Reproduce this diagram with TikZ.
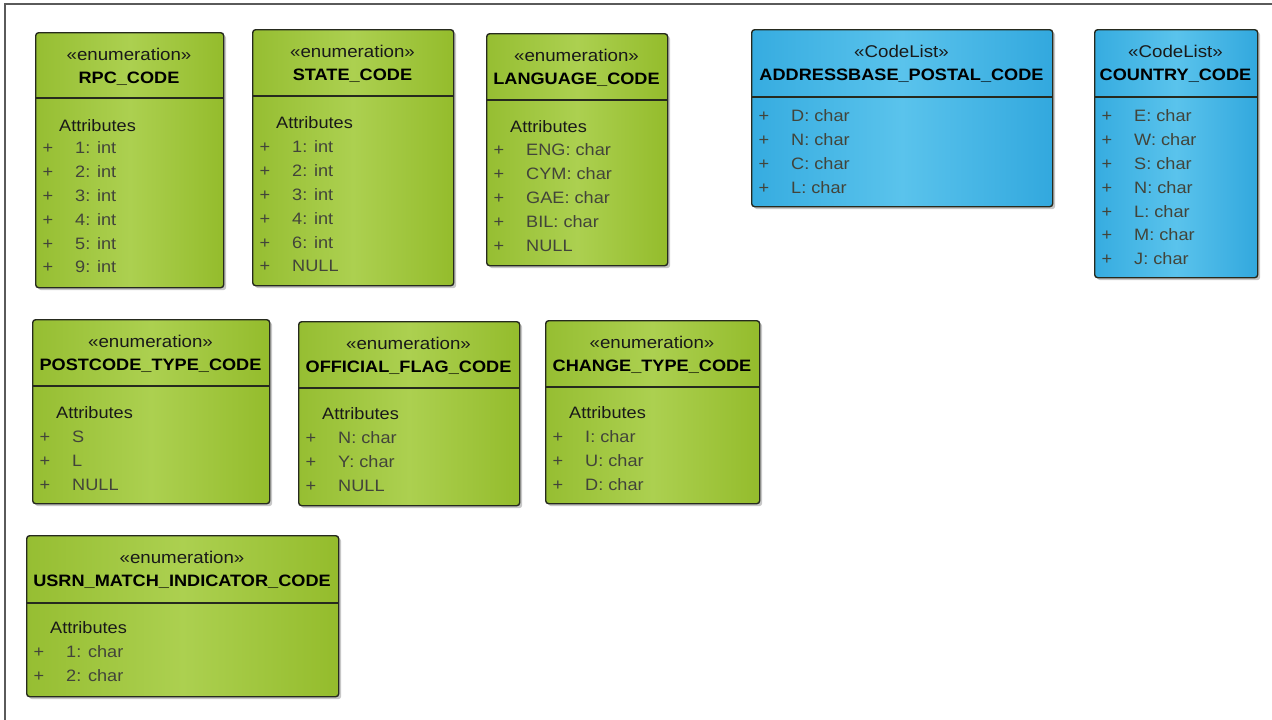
\documentclass[tikz,border=0pt]{standalone}
\usepackage{fontspec}
\setmainfont{Liberation Sans}[FakeStretch=1.1]
\usetikzlibrary{shadows}
\definecolor{gA}{RGB}{150,190,50}
\definecolor{gB}{RGB}{172,208,80}
\definecolor{gC}{RGB}{148,188,44}
\definecolor{bA}{RGB}{54,172,224}
\definecolor{bB}{RGB}{90,195,236}
\definecolor{bC}{RGB}{50,168,222}
\definecolor{edgec}{RGB}{38,42,30}
\definecolor{rowtxt}{RGB}{66,68,58}
\definecolor{framec}{RGB}{90,90,90}
\tikzset{
  umlshape/.style={draw=edgec, line width=1.4pt, rounded corners=3pt, inner sep=0pt,
    anchor=north west,
    drop shadow={shadow xshift=2.5pt, shadow yshift=-2.5pt, opacity=0.22, fill=black}},
  gbox/.style={umlshape, left color=gA, right color=gC, middle color=gB},
  bbox/.style={umlshape, left color=bA, right color=bC, middle color=bB},
  divider/.style={draw=edgec, line width=1.4pt},
  stereo/.style={anchor=base, inner sep=0pt, font=\fontsize{17}{20}\selectfont, text=black!90},
  titletxt/.style={anchor=base, inner sep=0pt, font=\fontsize{16.5}{20}\selectfont\bfseries, text=black},
  attrhead/.style={anchor=base west, inner sep=0pt, font=\fontsize{16.5}{20}\selectfont, text=black!90},
  rowtext/.style={anchor=base west, inner sep=0pt, font=\fontsize{16.5}{20}\selectfont, text=rowtxt},
  plussign/.style={anchor=base, inner sep=0pt, font=\fontsize{16.5}{20}\selectfont, text=rowtxt},
  framel/.style={draw=framec, line width=1.5pt}
}
% #1 name, #2 style, #3 x1, #4 y1, #5 x2, #6 y2, #7 divider y, #8 stereotype, #9 title
\newcommand\umlbox[9]{%
  \node[#2, minimum width={(#5-#3)*1pt}, minimum height={(#6-#4)*1pt}] (#1) at (#3,#4) {};
  \draw[divider] (#1.west |- 0,#7) -- (#1.east |- 0,#7);
  \node[stereo] (#1-st) at ({(#3+#5)/2},{#4+28.5}) {#8};
  \node[titletxt] (#1-ti) at ({(#3+#5)/2},{#4+51.7}) {#9};
}
% #1 name, #2 x1, #3 y centre
\newcommand\umlattr[3]{%
  \node[attrhead] (#1-at) at ({#2+24},{#3+5.9}) {Attributes};
}
% #1 name, #2 x1, #3 first row centre y, #4 list
\newcommand\umlrows[4]{%
  \foreach \t [count=\i from 0] in {#4} {
    \node[plussign] (#1-p\i) at ({#2+13},{#3+23.8*\i+5.9}) {+};
    \node[rowtext] (#1-r\i) at ({#2+40},{#3+23.8*\i+5.9}) {\t};
  }%
}
\begin{document}
\begin{tikzpicture}[x=1pt,y=-1pt]
\useasboundingbox[fill=white] (0,0) rectangle (1272,720);
\draw[framel] (5,720) -- (5,4) -- (1272,4);

\umlbox{rpc}{gbox}{35}{32}{223}{287}{98}{«enumeration»}{RPC\_CODE}
\umlattr{rpc}{35}{126}
\umlrows{rpc}{35}{148}{1: int,2: int,3: int,4: int,5: int,9: int}

\umlbox{state}{gbox}{252}{29}{453}{285}{96}{«enumeration»}{STATE\_CODE}
\umlattr{state}{252}{123}
\umlrows{state}{252}{147}{1: int,2: int,3: int,4: int,6: int,NULL}

\umlbox{lang}{gbox}{486}{33}{667}{265}{100}{«enumeration»}{LANGUAGE\_CODE}
\umlattr{lang}{486}{127}
\umlrows{lang}{486}{150}{ENG: char,CYM: char,GAE: char,BIL: char,NULL}

\umlbox{addr}{bbox}{751}{29}{1052}{206}{97}{«CodeList»}{ADDRESSBASE\_POSTAL\_CODE}
\umlrows{addr}{751}{116}{D: char,N: char,C: char,L: char}

\umlbox{country}{bbox}{1094}{29}{1257}{277}{97}{«CodeList»}{COUNTRY\_CODE}
\umlrows{country}{1094}{116}{E: char,W: char,S: char,N: char,L: char,M: char,J: char}

\umlbox{postcode}{gbox}{32}{319}{269}{503}{386}{«enumeration»}{POSTCODE\_TYPE\_CODE}
\umlattr{postcode}{32}{413}
\umlrows{postcode}{32}{437}{S,L,NULL}

\umlbox{official}{gbox}{298}{321}{519}{505}{388}{«enumeration»}{OFFICIAL\_FLAG\_CODE}
\umlattr{official}{298}{414}
\umlrows{official}{298}{438}{N: char,Y: char,NULL}

\umlbox{change}{gbox}{545}{320}{759}{503}{387}{«enumeration»}{CHANGE\_TYPE\_CODE}
\umlattr{change}{545}{413}
\umlrows{change}{545}{437}{I: char,U: char,D: char}

\umlbox{usrn}{gbox}{26}{535}{338}{696}{603}{«enumeration»}{USRN\_MATCH\_INDICATOR\_CODE}
\umlattr{usrn}{26}{628}
\umlrows{usrn}{26}{652}{1: char,2: char}
\end{tikzpicture}
\end{document}
